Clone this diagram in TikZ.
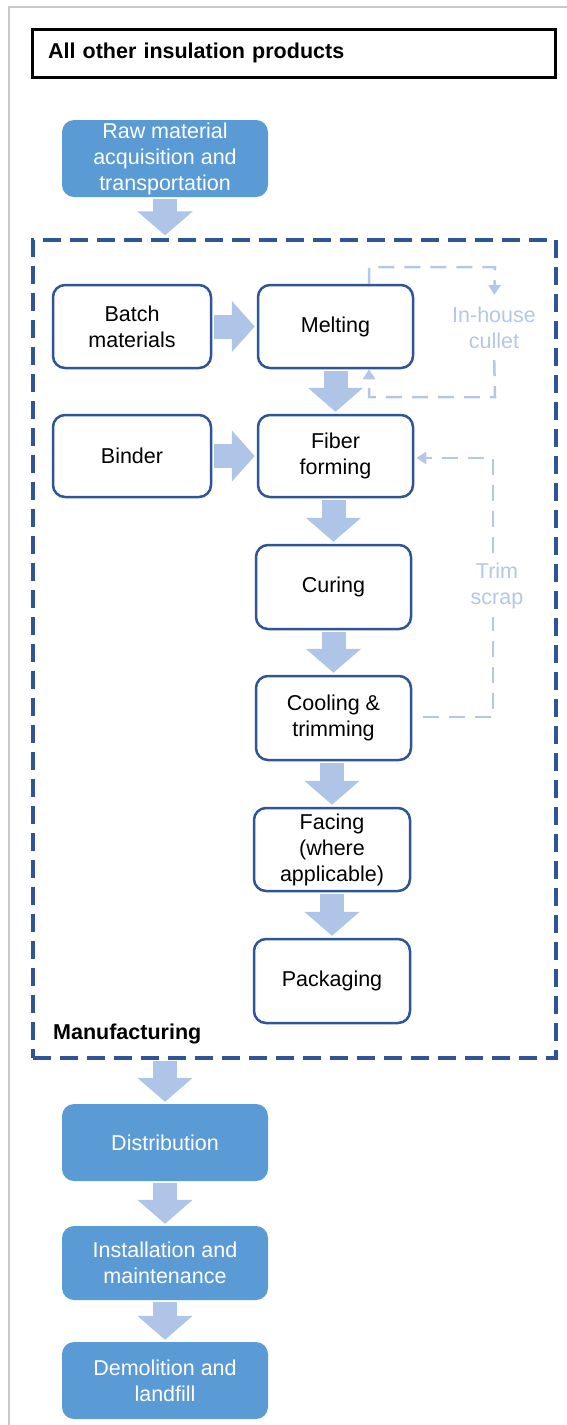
\documentclass[tikz,border=0pt]{standalone}
\usepackage{fontspec}
\setmainfont{Liberation Sans}
\usetikzlibrary{arrows.meta}
\definecolor{dkblue}{HTML}{2F5597}
\definecolor{midblue}{HTML}{5B9BD5}
\definecolor{arrblue}{HTML}{AFC5E8}
\definecolor{ltblue}{HTML}{B4C7E7}
\definecolor{framegray}{HTML}{C8C8C8}
\begin{document}
\begin{tikzpicture}[x=1pt,y=-1pt,
  every node/.style={font=\fontsize{21.5}{26}\selectfont},
  proc/.style={draw=dkblue, line width=2.5pt, rounded corners=12pt, fill=white, align=center, minimum width=155pt, minimum height=83pt, inner sep=2pt},
  life/.style={fill=midblue, rounded corners=12pt, text=white, align=center, minimum width=206pt, minimum height=77pt, inner sep=2pt},
  blk/.style={line width=24pt, draw=arrblue, -{Triangle[width=54pt,length=24pt]}, shorten >=2pt, shorten <=2pt},
  blkh/.style={line width=24pt, draw=arrblue, -{Triangle[width=50pt,length=23pt]}, shorten >=2pt, shorten <=2pt},
  loopline/.style={draw=ltblue, line width=2.5pt, dash pattern=on 16pt off 10pt},
  looptip/.style={-{Triangle[width=12pt,length=10pt]}},
  lbl/.style={text=ltblue, align=center, inner sep=2pt}
]
\useasboundingbox (0,0) rectangle (567,1425);
% frame
\draw[framegray, line width=1.5pt] (9,1425) -- (9,7) -- (567,7);
% title
\node[draw=black, line width=3pt, minimum width=523pt, minimum height=48pt, text width=491pt, inner xsep=16pt, align=left, font=\fontsize{21.5}{26}\selectfont\bfseries] (title) at (293.5,53) {All other insulation products};
% manufacturing box
\node[draw=dkblue, line width=3.2pt, dash pattern=on 18pt off 9pt, minimum width=523pt, minimum height=818pt, inner sep=0pt] (mfg) at (294.5,649) {};
\node[anchor=west, font=\fontsize{21.5}{26}\selectfont\bfseries, inner sep=0pt] (mfglbl) at (53,1034) {Manufacturing};
% life-cycle boxes
\node[life] (raw) at (165,158.5) {Raw material\\acquisition and\\transportation};
\node[life] (dist) at (165,1142.5) {Distribution};
\node[life, minimum height=74pt] (inst) at (165,1263) {Installation and\\maintenance};
\node[life] (demo) at (165,1380.5) {Demolition and\\landfill};
% process boxes
\node[proc, minimum width=158pt] (batch) at (132,326.5) {Batch\\materials};
\node[proc] (melt) at (335.5,326.5) {Melting};
\node[proc, minimum width=158pt, minimum height=82pt] (binder) at (132,456) {Binder};
\node[proc, minimum height=82pt] (fiber) at (335.5,456) {Fiber\\forming};
\node[proc, minimum height=84pt] (curing) at (333.5,587) {Curing};
\node[proc, minimum height=84pt] (cooling) at (333.5,718) {Cooling \&\\trimming};
\node[proc, minimum width=156pt] (facing) at (332,849.5) {Facing\\(where\\applicable)};
\node[proc, minimum width=156pt, minimum height=84pt] (pack) at (332,981) {Packaging};
% block arrows
\draw[blk, shorten >=3pt] (raw.south) -- (raw.south |- mfg.north);
\draw[blkh] (batch.east) -- (melt.west);
\draw[blkh] (binder.east) -- (fiber.west);
\draw[blk] (melt.south) -- (melt.south |- fiber.north);
\draw[blk] (fiber.south -| curing.south) -- (curing.north);
\draw[blk] (curing.south) -- (cooling.north);
\draw[blk] (cooling.south -| facing.south) -- (facing.north);
\draw[blk] (facing.south) -- (pack.north);
\draw[blk, shorten <=1pt] (dist.north |- mfg.south) -- (dist.north);
\draw[blk] (dist.south) -- (inst.north);
\draw[blk] (inst.south) -- (demo.north);
% in-house cullet loop
\node[lbl] (cull) at (494,328) {In-house\\cullet};
\coordinate (ct) at (495,267);
\coordinate (cb) at (495,397);
\draw[loopline, looptip, shorten >=10pt] ([xshift=33.5pt]melt.north) |- (ct) -- (cull.north);
\draw[loopline, looptip, shorten <=9pt] (cull.south) -- (cb) -| ([xshift=33.5pt]melt.south);
% trim scrap loop
\coordinate (tb) at (493,717);
\coordinate (tt) at (493,458);
\draw[loopline, looptip, shorten <=11pt, shorten >=2pt] (cooling.east |- tb) -- (tb) -- (tt) -- (fiber.east |- tt);
\node[lbl, fill=white, inner ysep=8pt] (trim) at (497,586) {Trim\\scrap};
\end{tikzpicture}
\end{document}
